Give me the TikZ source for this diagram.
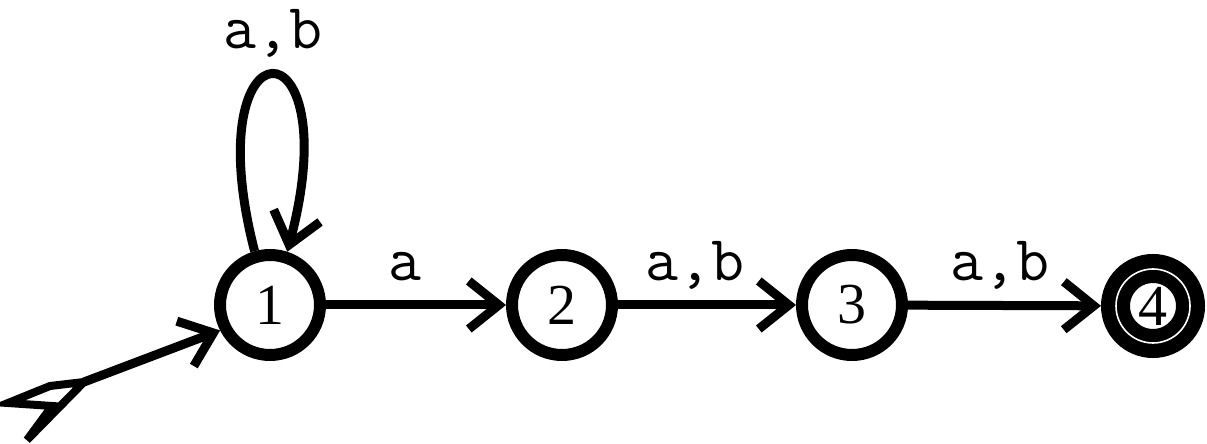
\documentclass[tikz,border=0pt]{standalone}
\usepackage{fontspec}
\setmainfont{Liberation Serif}
\usetikzlibrary{arrows.meta}
\tikzset{
  state/.style={draw, circle, line width=12pt, minimum size=100pt, inner sep=0pt,
    font=\fontsize{58}{58}\selectfont},
  acc/.style={draw, circle, line width=29pt, minimum size=75pt, inner sep=0pt,
    font=\fontsize{58}{58}\selectfont},
  edge/.style={line width=9pt, -{Straight Barb[length=30pt, width=48pt, line width=0pt 1]}},
  lbl/.style={anchor=base, inner sep=0pt, font=\fontsize{64}{64}\ttfamily}
}
\begin{document}
\begin{tikzpicture}[x=1pt, y=1pt]
\useasboundingbox (0,0) rectangle (1207,444);
\node[state] (n1) at (270,139) {1};
\node[state] (n2) at (562,139) {2};
\node[state] (n3) at (852,139) {3};
\node[acc] (n4) at (1153,138) {4};
\draw[white, line width=1.6pt] (n4.center) circle (37);
% transitions
\draw[edge] (n1) -- (n2);
\draw[edge] (n2) -- (n3);
\draw[edge] (n3) -- (n4);
% loop
\draw[edge] (n1.106) .. controls (194,428) and (350,428) .. (n1.72);
% labels
\node[lbl] (l0) at (273,395) {a,b};
\node[lbl] (l1) at (405,163) {a};
\node[lbl] (l2) at (695,163) {a,b};
\node[lbl] (l3) at (1000,163) {a,b};
% initial arrow with tail
\coordinate (tail) at (84,62);
\draw[edge] (tail) -- (n1.207);
\draw[line width=8pt, line join=miter, fill=white] (8,41) -- (50,58) -- (84,62) -- (27,4) -- (52,38) -- cycle;
\end{tikzpicture}
\end{document}
